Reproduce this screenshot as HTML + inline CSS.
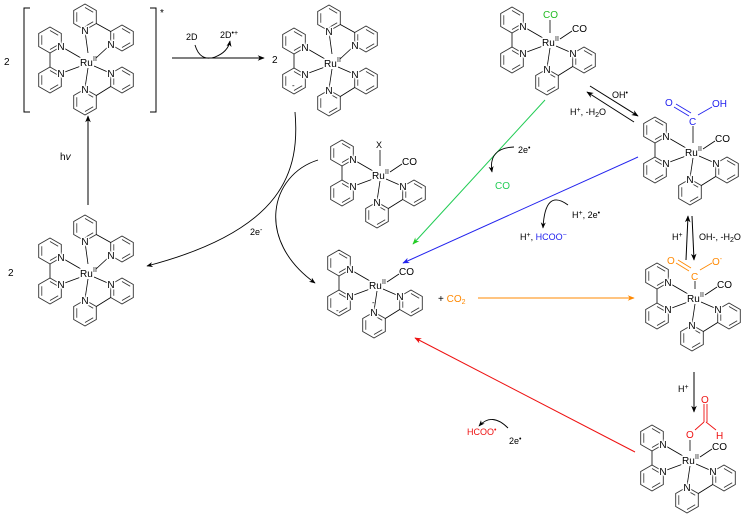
<!DOCTYPE html>
<html><head><meta charset="utf-8"><style>
html,body{margin:0;padding:0;background:#fff}
svg{display:block}
text{font-family:"Liberation Sans",sans-serif;font-size:10px;fill:#000}
.s{font-size:7px}
.n{text-anchor:middle;stroke:#fff;stroke-width:3px;paint-order:stroke;font-size:10px}
</style></head><body>
<svg width="749" height="522" viewBox="0 0 749 522" xmlns="http://www.w3.org/2000/svg">
<defs>
<marker id="ah" viewBox="0 0 10 10" refX="9" refY="5" markerWidth="7" markerHeight="7" orient="auto-start-reverse"><path d="M0,1 L10,5 L0,9 L3,5 Z" fill="#000"/></marker>
<marker id="ahg" viewBox="0 0 10 10" refX="9" refY="5" markerWidth="7" markerHeight="7" orient="auto"><path d="M0,1 L10,5 L0,9 L3,5 Z" fill="#2c2"/></marker>
<marker id="ahb" viewBox="0 0 10 10" refX="9" refY="5" markerWidth="7" markerHeight="7" orient="auto"><path d="M0,1 L10,5 L0,9 L3,5 Z" fill="#22e"/></marker>
<marker id="aho" viewBox="0 0 10 10" refX="9" refY="5" markerWidth="7" markerHeight="7" orient="auto"><path d="M0,1 L10,5 L0,9 L3,5 Z" fill="#f80"/></marker>
<marker id="ahr" viewBox="0 0 10 10" refX="9" refY="5" markerWidth="7" markerHeight="7" orient="auto"><path d="M0,1 L10,5 L0,9 L3,5 Z" fill="#e11"/></marker>
<g id="ring"><polygon points="0,-13 11.3,-6.5 11.3,6.5 0,13 -11.3,6.5 -11.3,-6.5" fill="none" stroke="#333" stroke-width="0.9"/>
<path d="M0,-9.5 L8.2,-4.75 M8.2,4.75 L0,9.5 M-8.2,4.75 L-8.2,-4.75" fill="none" stroke="#333" stroke-width="0.8"/></g>
<g id="bpyL" stroke="#000" stroke-width="0.8">
<use href="#ring" x="-38" y="-22"/><use href="#ring" x="-38" y="18"/>
<line x1="-38" y1="-9" x2="-38" y2="5"/>
<line x1="-26" y1="-15" x2="-7" y2="-4"/>
<line x1="-26" y1="11" x2="-7" y2="4"/>
<text x="-27" y="-12" class="n" stroke="#fff">N</text><text x="-27" y="15" class="n" stroke="#fff">N</text>
</g>
<g id="bpyB" stroke="#000" stroke-width="0.8">
<use href="#ring" x="-3" y="40"/><use href="#ring" x="34" y="18"/>
<line x1="8.3" y1="33.5" x2="22.7" y2="24.5"/>
<line x1="0" y1="6" x2="-3" y2="26"/>
<line x1="6" y1="4" x2="22" y2="11"/>
<text x="-3" y="31" class="n" stroke="#fff">N</text><text x="23" y="15" class="n" stroke="#fff">N</text>
</g>
<g id="bpyT" stroke="#000" stroke-width="0.8">
<use href="#ring" x="-3" y="-45"/><use href="#ring" x="34" y="-24"/>
<line x1="8.3" y1="-38.5" x2="22.7" y2="-30.5"/>
<line x1="0" y1="-9" x2="-3" y2="-31"/>
<line x1="8" y1="-4" x2="22" y2="-17"/>
<text x="-3" y="-28" class="n" stroke="#fff">N</text><text x="23" y="-14" class="n" stroke="#fff">N</text>
</g>
<g id="ru"><text x="-8" y="4" class="n" style="text-anchor:start">Ru</text><text x="5" y="-1" class="s">II</text></g>
<g id="tris"><use href="#bpyL"/><use href="#bpyB"/><use href="#bpyT"/><use href="#ru"/></g>
<g id="bis"><use href="#bpyL"/><use href="#bpyB"/>
<line x1="10" y1="-3" x2="22" y2="-11" stroke="#000" stroke-width="0.8"/><use href="#ru"/><text x="22" y="-10">CO</text></g>
</defs>

<text x="4" y="65">2</text>
<path d="M30,8 H24 V112 H30 M150,8 H156 V112 H150" fill="none" stroke="#000" stroke-width="1"/>
<text x="160" y="16">*</text>
<use href="#tris" x="88" y="62"/>

<line x1="172" y1="58" x2="264" y2="58" stroke="#000" stroke-width="1" marker-end="url(#ah)"/>
<path d="M195,45 Q200,62 215,57 Q228,52 230,41" fill="none" stroke="#000" stroke-width="0.9" marker-end="url(#ah)"/>
<text x="186" y="40" style="font-size:9px">2D</text><text x="220" y="38" style="font-size:9px">2D<tspan class="s" dy="-3">•+</tspan></text>

<text x="272" y="63">2</text>
<use href="#tris" x="332" y="63"/>
<text x="292" y="88" style="font-size:8px">-</text>

<line x1="88" y1="205" x2="88" y2="116" stroke="#000" stroke-width="1" marker-end="url(#ah)"/>
<text x="60" y="160">h<tspan font-style="italic">v</tspan></text>

<text x="8" y="276">2</text>
<use href="#tris" x="88" y="273"/>

<path d="M295,112 C300,170 285,230 147,266" fill="none" stroke="#000" stroke-width="0.9" marker-end="url(#ah)"/>
<path d="M318,160 C270,175 255,240 315,283" fill="none" stroke="#000" stroke-width="0.9" marker-end="url(#ah)"/>
<text x="250" y="235" style="font-size:9px">2e<tspan class="s" dy="-3">-</tspan></text>

<use href="#bis" x="380" y="175"/>
<line x1="380" y1="166" x2="380" y2="150" stroke="#000" stroke-width="0.8"/>
<text x="376" y="148" style="font-size:9px">X</text>

<use href="#bis" x="550" y="42"/>
<line x1="550" y1="33" x2="550" y2="20" stroke="#000" stroke-width="0.8"/>
<text x="543" y="18" style="fill:#2b2">CO</text>

<use href="#bis" x="377" y="285"/>
<text x="336" y="313" style="font-size:8px">-</text><text x="372" y="305" style="font-size:8px">-</text>
<text x="438" y="302">+ <tspan style="fill:#f80">CO<tspan class="s" dy="2">2</tspan></tspan></text>

<line x1="545" y1="100" x2="413" y2="244" stroke="#2c5" stroke-width="1" marker-end="url(#ahg)"/>
<path d="M514,147 Q488,148 492,172" fill="none" stroke="#000" stroke-width="0.9" marker-end="url(#ah)"/>
<text x="518" y="153" style="font-size:9px">2e<tspan class="s" dy="-3">•</tspan></text>
<text x="495" y="189" style="fill:#2c5">CO</text>

<line x1="638" y1="157" x2="403" y2="263" stroke="#22e" stroke-width="1" marker-end="url(#ahb)"/>
<path d="M568,205 Q545,188 543,228" fill="none" stroke="#000" stroke-width="0.9" marker-end="url(#ah)"/>
<text x="572" y="218" style="font-size:9px">H<tspan class="s" dy="-3">+</tspan><tspan dy="3">, 2e</tspan><tspan class="s" dy="-3">•</tspan></text>
<text x="520" y="240" style="font-size:9px">H<tspan class="s" dy="-3">+</tspan><tspan dy="3">, </tspan><tspan style="fill:#22e">HCOO</tspan><tspan class="s" dy="-3" style="fill:#22e">−</tspan></text>

<line x1="478" y1="298" x2="634" y2="298" stroke="#f80" stroke-width="1" marker-end="url(#aho)"/>

<line x1="635" y1="452" x2="415" y2="338" stroke="#e11" stroke-width="1" marker-end="url(#ahr)"/>
<path d="M508,428 Q492,412 479,426" fill="none" stroke="#000" stroke-width="0.9" marker-end="url(#ah)"/>
<text x="467" y="435" style="fill:#e11;font-size:9px">HCOO<tspan class="s" dy="-3">•</tspan></text>
<text x="509" y="444" style="font-size:9px">2e<tspan class="s" dy="-3">•</tspan></text>

<line x1="590" y1="86" x2="638" y2="116" stroke="#000" stroke-width="1" marker-end="url(#ah)"/>
<line x1="634" y1="122" x2="587" y2="92" stroke="#000" stroke-width="1" marker-end="url(#ah)"/>
<text x="612" y="98" style="font-size:9px">OH<tspan class="s" dy="-3">•</tspan></text>
<text x="570" y="115" style="font-size:9px">H<tspan class="s" dy="-3">+</tspan><tspan dy="3">, -H</tspan><tspan class="s" dy="2">2</tspan><tspan dy="-2">O</tspan></text>

<use href="#bis" x="693" y="152"/>
<line x1="693" y1="143" x2="693" y2="126" stroke="#000" stroke-width="0.8"/>
<text x="689" y="125" style="fill:#22e">C</text>
<path d="M689,116 L674,107 M691,113 L676,104" stroke="#22e" stroke-width="0.9"/>
<line x1="698" y1="115" x2="712" y2="107" stroke="#22e" stroke-width="0.9"/>
<text x="665" y="106" style="fill:#22e">O</text><text x="712" y="107" style="fill:#22e">OH</text>

<line x1="686" y1="260" x2="688" y2="216" stroke="#000" stroke-width="1" marker-end="url(#ah)"/>
<line x1="692" y1="216" x2="694" y2="260" stroke="#000" stroke-width="1" marker-end="url(#ah)"/>
<text x="672" y="240" style="font-size:9px">H<tspan class="s" dy="-3">+</tspan></text>
<text x="699" y="240" style="font-size:9px">OH-, -H<tspan class="s" dy="2">2</tspan><tspan dy="-2">O</tspan></text>

<use href="#bis" x="695" y="298"/>
<line x1="695" y1="289" x2="695" y2="281" stroke="#000" stroke-width="0.8"/>
<text x="691" y="280" style="fill:#f80">C</text>
<path d="M689,271 L676,263 M691,268 L678,260" stroke="#f80" stroke-width="0.9"/>
<line x1="700" y1="270" x2="712" y2="263" stroke="#f80" stroke-width="0.9"/>
<text x="667" y="264" style="fill:#f80">O</text><text x="712" y="265" style="fill:#f80">O<tspan class="s" dy="-4">-</tspan></text>

<line x1="694" y1="372" x2="694" y2="412" stroke="#000" stroke-width="1" marker-end="url(#ah)"/>
<text x="678" y="392" style="font-size:9px">H<tspan class="s" dy="-3">+</tspan></text>

<use href="#bis" x="690" y="460"/>
<line x1="690" y1="451" x2="690" y2="440" stroke="#000" stroke-width="0.8"/>
<text x="686" y="438" style="fill:#e11">O</text>
<line x1="695" y1="430" x2="704" y2="422" stroke="#e11" stroke-width="0.9"/>
<path d="M704,422 L704,404 M707,422 L707,404" stroke="#e11" stroke-width="0.9"/>
<line x1="706" y1="422" x2="716" y2="430" stroke="#e11" stroke-width="0.9"/>
<text x="701" y="403" style="fill:#e11">O</text><text x="716" y="439" style="fill:#e11">H</text>
</svg>
</body></html>
